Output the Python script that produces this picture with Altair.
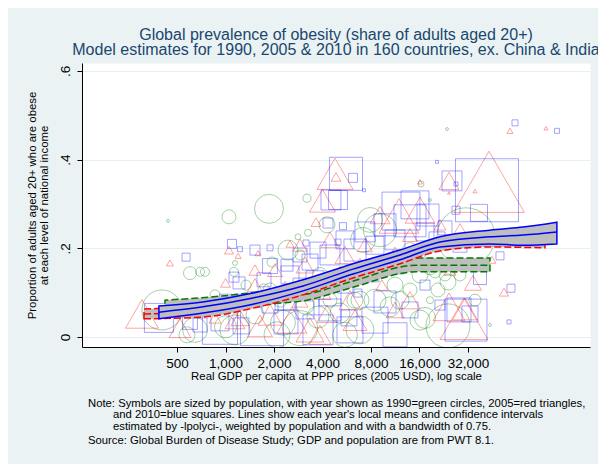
import altair as alt
import pandas as pd

# ---- country markers: GDP per capita (2005 USD), obesity share, population (millions)
gdp_1990 = [403, 440, 1051, 1862, 602, 695, 746, 1145, 1129, 647, 1000, 1145, 2900, 2274,
            3751, 5136, 10496, 3205, 4266, 3251, 2818, 7886, 2443, 9098, 7135, 31097, 16346,
            18590, 23702, 24043, 17307, 18590, 43820, 19967, 23034, 21446, 26573, 577, 1524,
            1889, 3860, 5516, 11273, 13968, 1419, 861, 13968, 6836, 1067, 5516, 2900, 1944,
            18590, 24043, 28542, 20841, 16114, 12108, 8470, 6364, 4452, 3115, 2179, 1733,
            1340, 6836, 2088, 16114, 35365]
ob_1990 = [0.061, 0.262, 0.271, 0.289, 0.144, 0.147, 0.147, 0.167, 0.147, 0.016, 0.023, 0.016,
           0.020, 0.032, 0.045, 0.054, 0.068, 0.313, 0.253, 0.235, 0.226, 0.264, 0.196, 0.241,
           0.219, 0.226, 0.345, 0.309, 0.469, 0.025, 0.043, 0.083, 0.027, 0.147, 0.140, 0.162,
           0.156, 0.005, 0.050, 0.106, 0.140, 0.151, 0.117, 0.106, 0.083, 0.095, 0.196, 0.083,
           0.072, 0.005, 0.185, 0.169,
           0.156, 0.124, 0.140, 0.106, 0.140, 0.083, 0.083, 0.083, 0.083, 0.072, 0.083, 0.106,
           0.117, 0.016, 0.005, 0.038, 0.083]
pop_1990 = [129, 0.7, 15.8, 67.8, 13.6, 6.5, 6.5, 2, 6.5, 50, 39, 73, 99, 50, 39, 32, 32, 5.2,
            20.6, 4, 2.9, 50, 32, 88, 50, 271, 2.9, 0.7, 0.7, 156, 35.5, 4, 0.7, 11.6, 11.6, 8.1,
            8.1, 20.6, 26, 15.8, 18, 11.6, 20.6, 15.8, 11.6, 8.1, 18, 26, 11.6, 50, 8.1, 8.1,
            15.8, 20.6, 11.6, 15.8, 20.6, 26, 39, 20.6, 15.8, 26, 15.8, 11.6, 8.1, 63, 54.5,
            32, 11.6]

gdp_2005 = [303, 452, 1051, 1196, 1591, 522, 1000, 2514, 4782, 4851, 4000, 3646, 11937, 24389,
            35365, 24389, 58320, 97534, 43197, 53524, 34368, 24389, 30656, 30221, 45090, 2587,
            1637, 4266, 9362, 695, 1524, 2029, 3115, 5516, 7342, 13968, 21446, 28542, 16114,
            2900, 5925, 3860, 1230, 861, 9098, 13968,
            16114, 9098, 4452, 2900, 6836, 11273, 18590, 2340, 3860, 1889, 3346, 6364, 11273,
            24741, 1524, 1145]
ob_2005 = [0.052, 0.167, 0.196, 0.183, 0.189, 0.020, 0.122, 0.210, 0.368, 0.361, 0.307, 0.259,
           0.273, 0.352, 0.329, 0.325, 0.465, 0.471, 0.350, 0.101, 0.122, 0.068, 0.063, 0.041,
           0.174, 0.038, 0.025, 0.052, 0.117, 0.061, 0.117, 0.151, 0.162, 0.185, 0.207, 0.230,
           0.253, 0.241, 0.350, 0.083, 0.083, 0.005, 0.043, 0.043, 0.162, 0.083,
           0.286, 0.275, 0.219, 0.207, 0.162, 0.185, 0.207, 0.106, 0.106, 0.050, 0.016, 0.038,
           0.061, 0.151, 0.151, 0.038]
pop_2005 = [65.5, 2.9, 4.9, 2.2, 2.2, 29, 6, 3.8, 78, 6, 40.6, 6, 96, 24, 1, 0.5, 2.2, 1, 300,
            4.9, 17.4, 61.5, 37.6, 138, 3.8, 54, 37.6, 24, 8.7, 11.8, 13.5, 13.5, 19.5, 24, 13.5,
            13.5, 8.7, 13.5, 1.5, 15.4, 29, 29, 19.5, 8.7, 8.7, 24,
            54, 24, 19.5, 11.8, 15.4, 19.5, 8.7, 24, 29, 34.6, 47, 34.6, 19.5, 8.7, 8.7, 24]

gdp_2010 = [386, 569, 1097, 1230, 602, 924, 1248, 1213, 1129, 5596, 6185, 7238, 4516, 4991,
            4328, 5361, 3160, 4991, 1889, 12282, 13968, 25458, 26956, 20546, 62639, 114167,
            41980, 37445, 26956, 59159, 37984, 28137, 32926, 31097, 57488, 50551, 3751, 9772,
            924, 1685, 5841, 6643, 1889, 2514, 3346, 4452, 6364, 8470, 11273, 17307, 23034,
            2340, 4452, 1524, 1000, 8470, 2900, 16114, 1524, 2374,
            2900, 3751, 5516, 7342, 9772, 15003, 18065, 20546, 28542, 2408, 1733, 3594, 5516,
            8115, 11767, 13968, 4452, 3115, 11273, 1889, 1230, 695, 5925, 17307, 21446]
ob_2010 = [0.043, 0.180, 0.210, 0.198, 0.034, 0.034, 0.025, 0.122, 0.135, 0.368, 0.359, 0.331,
           0.309, 0.309, 0.257, 0.250, 0.212, 0.214, 0.201, 0.284, 0.262, 0.352, 0.345, 0.395,
           0.483, 0.465, 0.331, 0.280, 0.286, 0.110, 0.133, 0.061, 0.052, 0.038, 0.034, 0.183,
           0.016, 0.079, 0.023, 0.029, 0.043, 0.099, 0.160, 0.140, 0.169, 0.185, 0.196, 0.207,
           0.219, 0.237, 0.246, 0.083, 0.095, 0.083, 0.083, 0.038, 0.117, 0.174, 0.196, 0.034,
           0.185, 0.196, 0.219, 0.237, 0.253, 0.298, 0.275, 0.219, 0.207, 0.162, 0.129, 0.129,
           0.117, 0.140, 0.156, 0.061, 0.061, 0.061, 0.005, 0.072, 0.083, 0.027, 0.016, 0.117,
           0.072]
pop_2010 = [67.8, 5.2, 6.5, 2, 18, 26, 20.6, 11.6, 8.1, 88, 6.5, 0.7, 32, 29, 8.1, 4, 2.9, 2.9,
            2.9, 116, 82.5, 32, 1.3, 0.7, 2.9, 2, 320, 23.3, 5.2, 5.2, 13.6, 46.4, 20.6, 142, 1.3,
            5.2, 73, 39, 99, 149, 20.6, 5.2, 18, 26, 20.6, 32, 39, 26, 32, 26, 15.8, 32, 39, 15.8,
            11.6, 54.5, 15.8, 8.1, 8.1, 46.4,
            15.8, 20.6, 26, 32, 39, 63, 39, 20.6, 15.8, 11.6, 15.8, 26, 20.6, 15.8, 11.6, 20.6,
            39, 26, 46.4, 20.6, 11.6, 15.8, 54.5, 8.1, 8.1]

# ---- local-polynomial means with confidence bounds
band_gdp_1990 = [421, 924, 1889, 3205, 5925, 15437, 43820]
band_lo_1990 = [0.050, 0.059, 0.074, 0.083, 0.110, 0.147, 0.147]
band_mid_1990 = [0.068, 0.077, 0.090, 0.097, 0.124, 0.162, 0.162]
band_hi_1990 = [0.083, 0.092, 0.104, 0.110, 0.136, 0.178, 0.178]

band_gdp_2005 = [312, 725, 1481, 3027, 6184, 12108, 21446, 43820, 96150]
band_lo_2005 = [0.041, 0.045, 0.065, 0.095, 0.133, 0.165, 0.194, 0.203, 0.201]
band_mid_2005 = [0.052, 0.059, 0.079, 0.106, 0.144, 0.176, 0.205, 0.216, 0.219]
band_hi_2005 = [0.063, 0.072, 0.092, 0.120, 0.156, 0.187, 0.216, 0.230, 0.237]

band_gdp_2010 = [386, 725, 1481, 3027, 6184, 12108, 21446, 43820, 70160, 114000]
band_lo_2010 = [0.041, 0.054, 0.074, 0.104, 0.142, 0.174, 0.203, 0.210, 0.207, 0.210]
band_mid_2010 = [0.056, 0.068, 0.088, 0.115, 0.153, 0.185, 0.214, 0.226, 0.230, 0.237]
band_hi_2010 = [0.070, 0.079, 0.099, 0.129, 0.165, 0.196, 0.226, 0.241, 0.248, 0.259]

x_ticks = [500, 1000, 2000, 4000, 8000, 16000, 32000]
y_ticks = [0, 0.2, 0.4, 0.6]

title_lines = ["Global prevalence of obesity (share of adults aged 20+)",
               "Model estimates for 1990, 2005 & 2010 in 160 countries, ex. China & India"]
note_lines = [
    "Note: Symbols are sized by population, with year shown as 1990=green circles, 2005=red triangles,",
    "and 2010=blue squares. Lines show each year's local means and confidence intervals",
    "estimated by -lpolyci-, weighted by population and with a bandwidth of 0.75.",
]
source_line = "Source: Global Burden of Disease Study; GDP and population are from PWT 8.1."

W, H = 508, 284
FONT = "Liberation Sans"
BAND_FILL = "#BEBEBE"

xs = alt.Scale(type="log", domain=[128.6, 183000], nice=False)
ys = alt.Scale(domain=[-0.0226, 0.618], nice=False, zero=False)

xaxis = alt.Axis(
    values=x_ticks, labelExpr="format(datum.value, ',')", grid=False,
    title="Real GDP per capita at PPP prices (2005 USD), log scale",
    titleFontSize=11.4, titleFontWeight="normal", titleColor="black",
    titleBaseline="middle", titleY=29,
    labelFontSize=13.5, labelColor="black", labelBaseline="middle", labelPadding=11,
    tickSize=5, tickColor="black", domainColor="black", labelFlush=False,
)
yaxis = alt.Axis(
    values=y_ticks,
    labelExpr="datum.value == 0 ? '0' : replace(format(datum.value, '.1f'), '0.', '.')",
    grid=True, gridColor="#E6EEF0", gridWidth=1,
    title=["Proportion of adults aged 20+ who are obese", "at each level of national income"],
    titleFontSize=11.4, titleFontWeight="normal", titleColor="black",
    titleAngle=270, titleAlign="center", titleBaseline="middle", titleX=-49.5, titleY=H / 2,
    titleLineHeight=11.5,
    labelFontSize=13.5, labelColor="black", labelAngle=270, labelAlign="center",
    labelBaseline="middle", labelPadding=12,
    tickSize=5, tickColor="black", domainColor="black", labelFlush=False,
)


def marker_layer(gdp, ob, pop, shape, color, size_max):
    df = pd.DataFrame({"gdp": gdp, "ob": ob, "pop": pop})
    return alt.Chart(df).mark_point(
        shape=shape, filled=False, stroke=color, strokeOpacity=0.5, strokeWidth=1, clip=True
    ).encode(
        x=alt.X("gdp:Q", scale=xs, axis=xaxis),
        y=alt.Y("ob:Q", scale=ys, axis=yaxis),
        size=alt.Size("pop:Q", scale=alt.Scale(domain=[0, 320], range=[0, size_max]), legend=None),
    )


def band_layers(gdp, lo, mid, hi, color, dash):
    df = pd.DataFrame({"gdp": gdp, "lo": lo, "mid": mid, "hi": hi})
    area_kw = dict(fill=BAND_FILL, stroke=color, strokeWidth=1.5, interpolate="monotone")
    line_kw = dict(color=color, strokeWidth=1.5, interpolate="monotone")
    if dash:
        area_kw["strokeDash"] = dash
        line_kw["strokeDash"] = dash
    area = alt.Chart(df).mark_area(**area_kw).encode(
        x=alt.X("gdp:Q", scale=xs, axis=xaxis),
        y=alt.Y("lo:Q", scale=ys, axis=yaxis),
        y2="hi:Q",
    )
    line = alt.Chart(df).mark_line(**line_kw).encode(
        x=alt.X("gdp:Q", scale=xs, axis=xaxis),
        y=alt.Y("mid:Q", scale=ys, axis=yaxis),
    )
    return [area, line]


def text_layer(txt, x, y, size, color, align, baseline="middle"):
    return alt.Chart(pd.DataFrame({"t": [txt]})).mark_text(
        font=FONT, fontSize=size, color=color, align=align, baseline=baseline
    ).encode(x=alt.value(x), y=alt.value(y), text="t:N")


# white strip along the top and left edge of the graph region
strip_top = alt.Chart(pd.DataFrame({"k": [0]})).mark_rect(color="white").encode(
    x=alt.value(-82), x2=alt.value(W + 8), y=alt.value(-63), y2=alt.value(-55))
strip_left = alt.Chart(pd.DataFrame({"k": [0]})).mark_rect(color="white").encode(
    x=alt.value(-82), x2=alt.value(-74), y=alt.value(-63), y2=alt.value(H + 117))

layers = [
    strip_top, strip_left,
    marker_layer(gdp_1990, ob_1990, pop_1990, "circle", "green", 3969),
    marker_layer(gdp_2005, ob_2005, pop_2005, "triangle-up", "red", 5318),
    marker_layer(gdp_2010, ob_2010, pop_2010, "square", "blue", 3969),
]
layers += band_layers(band_gdp_1990, band_lo_1990, band_mid_1990, band_hi_1990, "#007A00", [7, 3])
layers += band_layers(band_gdp_2005, band_lo_2005, band_mid_2005, band_hi_2005, "red", [7, 3])
layers += band_layers(band_gdp_2010, band_lo_2010, band_mid_2010, band_hi_2010, "blue", None)

layers += [
    text_layer(title_lines[0], 254, -28, 16, "#1A476F", "center"),
    text_layer(title_lines[1], 254, -13, 16, "#1A476F", "center"),
    text_layer(note_lines[0], 6, 341, 11.3, "black", "left"),
    text_layer(note_lines[1], 31, 352.3, 11.3, "black", "left"),
    text_layer(note_lines[2], 31, 363.7, 11.3, "black", "left"),
    text_layer(source_line, 6, 378, 11.3, "black", "left"),
]

chart = alt.layer(*layers).resolve_scale(size="independent").properties(
    width=W, height=H,
    autosize=alt.AutoSizeParams(type="none"),
    padding={"left": 82, "top": 63, "right": 8, "bottom": 117},
    background="#EAF2F3",
).configure(font=FONT).configure_view(fill="white", stroke="transparent")

chart.save("out.html", embed_options={"renderer": "svg", "actions": False})
